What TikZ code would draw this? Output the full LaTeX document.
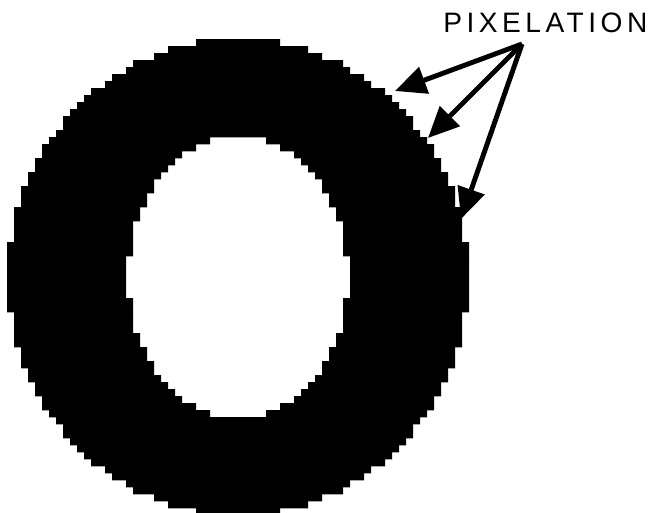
\documentclass[tikz,border=0pt]{standalone}
\usepackage{fontspec}
\setmainfont{Liberation Sans}
\newfontfamily\labelfont[LetterSpace=16]{Liberation Sans}
\usetikzlibrary{arrows.meta}

\begin{document}
\begin{tikzpicture}[
    x=0.02cm, y=-0.02cm,
    ring/.style={fill=black},
    caption/.style={
        inner sep=0pt,
        anchor=base west,
        font=\labelfont\fontsize{16}{19}\selectfont
    },
    arrow/.style={
        -{Triangle[length=0.62cm,width=0.55cm]},
        line width=2.8pt
    }
]
\useasboundingbox (0,0) rectangle (653,512);

% pixelated ring, one row of cells at a time
\begin{scope}
    \clip (0,0) rectangle (653,512);
    \foreach \j in {-34,...,33}{
        \pgfmathsetmacro\yc{(\j+0.5)*7}
        \pgfmathsetmacro\ytop{277+7*\j}
        \pgfmathsetmacro\ybot{\ytop+7.3}
        \pgfmathsetmacro\no{7*round(230/7*sqrt(max(0,1-(\yc/238)^2)))}
        \pgfmathsetmacro\ni{7*round(110/7*sqrt(max(0,1-(\yc/142)^2)))}
        \fill[ring] (238-\no,\ytop) rectangle (238-\ni,\ybot)
                    (238+\ni,\ytop) rectangle (238+\no,\ybot);
    }
\end{scope}

\node[caption] (label) at (443,32) {PIXELATION};

\coordinate (fan) at (522,44);
\coordinate (edge1) at (395,91);
\coordinate (edge2) at (428,138);
\coordinate (edge3) at (461,219);

\draw[arrow] (fan) -- (edge1);
\draw[arrow] (fan) -- (edge2);
\draw[arrow] (fan) -- (edge3);
\end{tikzpicture}
\end{document}
